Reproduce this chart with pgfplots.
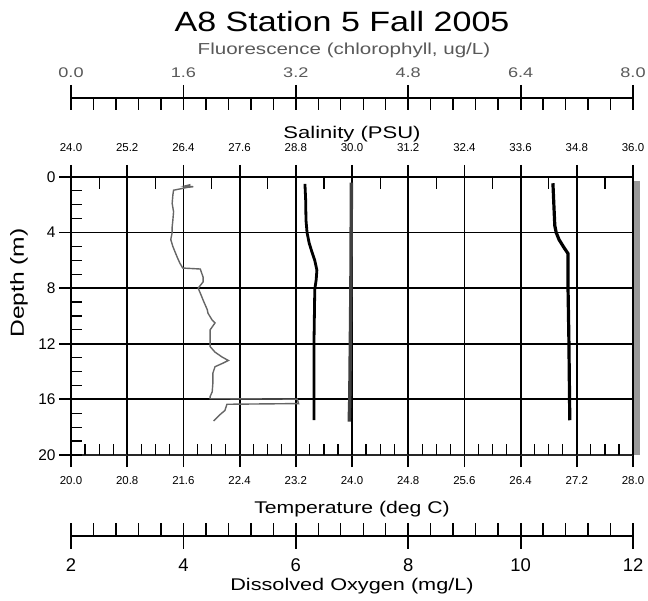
\documentclass[border=0pt]{standalone}
\usepackage{fontspec}
\setmainfont{Liberation Sans}
\usepackage{pgfplots}
\pgfplotsset{compat=1.18}
\newcommand{\wide}[2]{\scalebox{#1}[1]{#2}}
\begin{document}
\begin{tikzpicture}[x=1bp,y=1bp]
\useasboundingbox (0,0) rectangle (648,601);
\pgfplotsset{
  common/.style={scale only axis, width=562bp, height=278bp, at={(71bp,146bp)}, anchor=south west,
    ymin=0, ymax=20, y dir=reverse},
}
% ---- main axis: temperature / depth
\begin{axis}[common, xmin=20, xmax=28, clip=false,
  xtick={20,20.8,21.6,22.4,23.2,24,24.8,25.6,26.4,27.2,28},
  xticklabels={20.0,20.8,21.6,22.4,23.2,24.0,24.8,25.6,26.4,27.2,28.0},
  ytick={0,4,8,12,16,20}, yticklabels={0,4,8,12,16,20},
  xtick pos=left, ytick pos=left, tick align=center, major tick length=24bp,
  minor tick num=0,
  tick style={black, line width=1.8bp},
  grid=major, grid style={black, line width=1.8bp},
  axis line style={line width=1.8bp},
  xticklabel style={font=\fontsize{11.5}{13}\selectfont, yshift=-6bp},
  yticklabel style={font=\fontsize{15.5}{17}\selectfont},
]
\addplot[black, line width=2.8bp] coordinates {
(23.33,0.5)(23.34,1.6)(23.345,3.1)(23.36,4.0)(23.39,4.75)(23.43,5.4)(23.47,6.0)(23.50,6.7)(23.49,7.4)(23.47,8.1)(23.46,11.5)(23.46,16.3)(23.46,17.5)};
\draw[black!40, line width=6bp] ([xshift=3.5bp]axis cs:28,0.3) -- ([xshift=3.5bp]axis cs:28,20);
\draw[black!85, line width=2.8bp] (axis cs:20,20) -- (axis cs:28,20);
\end{axis}
% ---- minor ticks bottom / left
\begin{axis}[common, xmin=20, xmax=28, axis line style={draw=none},
  xtick={20,20.2,...,28}, ytick={0,1,...,20}, xticklabels={}, yticklabels={},
  xtick pos=left, ytick pos=left, tick align=inside, major tick length=11bp,
  tick style={black, line width=1.2bp}]
\end{axis}
% ---- salinity
\begin{axis}[common, xmin=24, xmax=36, axis line style={draw=none},
  xtick={24,25.2,26.4,27.6,28.8,30,31.2,32.4,33.6,34.8,36},
  xticklabels={24.0,25.2,26.4,27.6,28.8,30.0,31.2,32.4,33.6,34.8,36.0},
  xtick pos=right, xticklabel pos=right, ytick=\empty,
  tick align=center, major tick length=24bp, tick style={black,line width=1.8bp},
  xticklabel style={font=\fontsize{11.5}{13}\selectfont, yshift=10bp}]
\addplot[black, line width=3.2bp] coordinates {
(34.29,0.45)(34.31,2.0)(34.33,3.5)(34.36,4.0)(34.42,4.5)(34.53,5.1)(34.61,5.5)(34.61,7.5)(34.63,11.5)(34.65,17.5)};
\end{axis}
% ---- salinity minor top ticks
\begin{axis}[common, xmin=24, xmax=36, axis line style={draw=none},
  xtick={24.6,25.8,27,28.2,29.4,30.6,31.8,33,34.2,35.4}, xticklabels={},
  xtick pos=right, ytick=\empty, tick align=inside, major tick length=12bp,
  tick style={black, line width=1.2bp}]
\end{axis}
% ---- dissolved oxygen curve
\begin{axis}[common, xmin=2, xmax=12, hide axis]
\addplot[black!75, line width=3.4bp] coordinates {
(6.99,0.4)(6.985,4)(6.98,8)(6.97,12)(6.96,16)(6.95,17.6)};
\end{axis}
% ---- fluorescence curve
\begin{axis}[common, xmin=0, xmax=8, hide axis]
\addplot[black!60, line width=1.4bp] coordinates {
(1.70,0.55)(1.62,0.65)(1.74,0.7)(1.60,0.78)(1.68,0.72)(1.56,0.85)(1.46,0.95)(1.45,1.3)(1.44,1.9)(1.46,2.5)(1.45,3.1)(1.44,3.6)(1.44,4.0)(1.42,4.5)(1.45,5.0)(1.51,5.75)(1.55,6.2)(1.59,6.55)(1.84,6.62)(1.88,7.2)(1.88,7.55)(1.81,8.0)(1.84,8.35)(1.88,8.85)(1.94,9.55)(1.95,9.8)(2.01,10.3)(2.05,10.5)(1.98,11.0)(1.98,11.7)(1.98,12.2)(2.05,12.6)(2.15,12.95)(2.24,13.2)(2.16,13.4)(2.05,13.65)(2.02,14.1)(2.02,14.8)(2.01,15.45)(1.98,15.8)(1.98,15.95)(3.22,15.98)(3.24,16.3)(2.22,16.35)(2.19,16.8)(2.12,17.1)(2.08,17.3)(2.03,17.55)};
\end{axis}
% ---- fluorescence ruler
\begin{axis}[scale only axis, width=562bp, height=12bp, at={(71bp,491bp)}, anchor=south west,
  xmin=0, xmax=8, ymin=0, ymax=1, axis x line=top, axis y line=none, ytick=\empty,
  axis line style={-, line width=1.8bp},
  xtick={0,1.6,3.2,4.8,6.4,8},
  xticklabels={\wide{1.3}{0.0},\wide{1.3}{1.6},\wide{1.3}{3.2},\wide{1.3}{4.8},\wide{1.3}{6.4},\wide{1.3}{8.0}},
  minor x tick num=4, xmajorgrids, xminorgrids,
  grid style={black,line width=1.8bp}, minor grid style={black, line width=1.4bp},
  tick align=outside, major tick length=13bp, minor tick length=0pt,
  tick style={black,line width=1.8bp},
  xticklabel style={font=\fontsize{14}{16}\selectfont, text=black!65, yshift=4bp}]
\end{axis}
% ---- dissolved oxygen ruler
\begin{axis}[scale only axis, width=562bp, height=13bp, at={(71bp,65bp)}, anchor=south west,
  xmin=2, xmax=12, ymin=0, ymax=1, axis x line=bottom, axis y line=none, ytick=\empty,
  axis line style={-, line width=1.8bp},
  xtick={2,4,6,8,10,12}, xticklabels={2,4,6,8,10,12},
  minor x tick num=4, xmajorgrids, xminorgrids,
  grid style={black,line width=1.8bp}, minor grid style={black, line width=1.4bp},
  tick align=outside, major tick length=13bp, minor tick length=0pt,
  tick style={black,line width=1.8bp},
  xticklabel style={font=\fontsize{18.5}{20}\selectfont, yshift=-6bp}]
\end{axis}
% ---- titles and labels
\node[anchor=base, font=\fontsize{28}{32}\selectfont] at (342,569) {\wide{1.22}{A8 Station 5 Fall 2005}};
\node[anchor=base, font=\fontsize{16}{18}\selectfont, text=black!65] at (344,546) {\wide{1.29}{Fluorescence (chlorophyll, ug/L)}};
\node[anchor=base, font=\fontsize{17}{19}\selectfont] at (352,462) {\wide{1.3}{Salinity (PSU)}};
\node[anchor=base, font=\fontsize{17}{19}\selectfont] at (352,87) {\wide{1.25}{Temperature (deg C)}};
\node[anchor=base, font=\fontsize{17}{19}\selectfont] at (352,10) {\wide{1.28}{Dissolved Oxygen (mg/L)}};
\node[rotate=90, font=\fontsize{19}{21}\selectfont] at (19,318) {\wide{1.3}{Depth (m)}};
\end{tikzpicture}
\end{document}
